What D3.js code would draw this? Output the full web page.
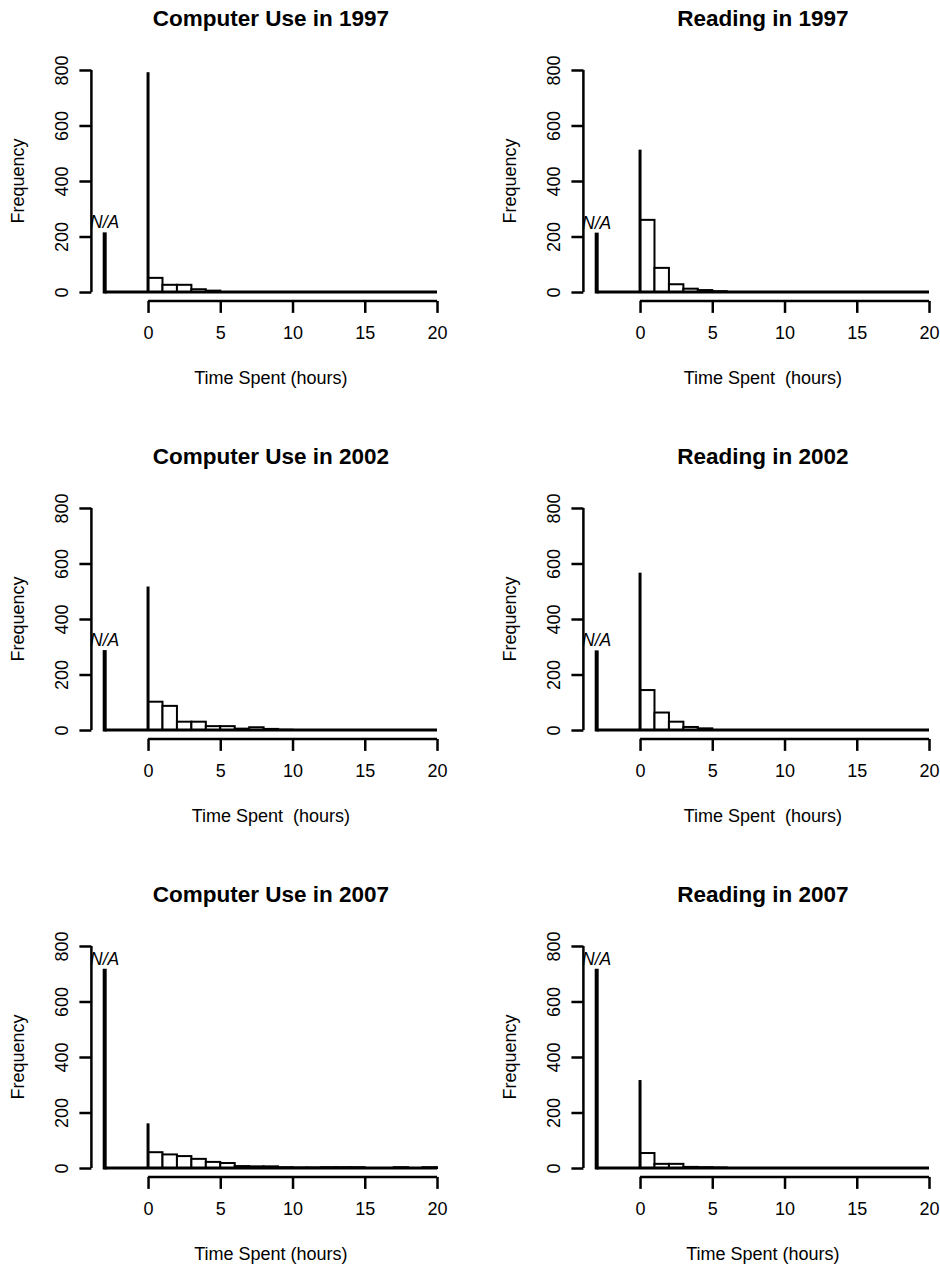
<!DOCTYPE html>
<html>
<head>
<meta charset="utf-8">
<script src="https://cdn.jsdelivr.net/npm/d3@7"></script>
<style>
  body { margin: 0; background: #fff; }
  text { font-family: "Liberation Sans", Arial, sans-serif; fill: #000; white-space: pre; }
</style>
</head>
<body>
<svg id="viz" width="940" height="1266"></svg>
<script>
// Panel data, in reading order (left column = computer use, right = reading)
const titles = [
    "Computer Use in 1997", "Reading in 1997",
    "Computer Use in 2002", "Reading in 2002",
    "Computer Use in 2007", "Reading in 2007"
];
const xTitles = [
    "Time Spent (hours)", "Time Spent  (hours)",
    "Time Spent  (hours)", "Time Spent  (hours)",
    "Time Spent (hours)", "Time Spent (hours)"
];
const naCounts = [215, 214, 288, 287, 718, 718];
const zeroCounts = [792, 513, 517, 567, 161, 317];
// counts for the 1-hour bins 0-1, 1-2, ... 19-20
const binCounts = [
    [51, 26, 26, 10, 5, 0, 0, 0, 0, 0, 0, 0, 0, 0, 0, 0, 0, 0, 0, 0],
    [260, 87, 28, 12, 7, 3, 0, 0, 0, 0, 0, 0, 0, 0, 0, 0, 0, 0, 0, 0],
    [102, 87, 30, 30, 14, 14, 5, 10, 4, 1, 0, 0, 0, 0, 0, 0, 0, 0, 0, 0],
    [144, 63, 30, 11, 6, 0, 0, 0, 0, 0, 0, 0, 0, 0, 0, 0, 0, 0, 0, 0],
    [57, 49, 43, 33, 22, 18, 7, 6, 6, 3, 2, 2, 3, 3, 3, 0, 0, 3, 0, 3],
    [54, 15, 15, 4, 3, 2, 0, 0, 0, 0, 0, 0, 0, 0, 0, 0, 0, 0, 0, 0]
];
const xTicks = [0, 5, 10, 15, 20];
const yTicks = [0, 200, 400, 600, 800];
const naPos = -3;

const CONFIG = {
    colOffset: 492,
    rowOffset: 438,
    xRange: [91.4, 450.3],   // plot region, x domain padded like R (4%)
    yRange: [300.9, 61.1],
    tickLen: 12,
    lw: 2.5,
    font: "18px"
};

const svg = d3.select("#viz");

const x = d3.scaleLinear().domain([-3.92, 20.92]).range(CONFIG.xRange);
const y = d3.scaleLinear().domain([-32, 832]).range(CONFIG.yRange);

titles.forEach((title, i) => {
    const col = i % 2, row = Math.floor(i / 2);
    const g = svg.append("g")
        .attr("transform", `translate(${col * CONFIG.colOffset},${row * CONFIG.rowOffset})`);

    const bins = binCounts[i].map((v, k) => ({ x0: k, x1: k + 1, v }));

    // 1. Histogram bars
    g.append("g").selectAll("rect")
        .data(bins.filter(d => d.v > 0))
        .join("rect")
        .attr("x", d => x(d.x0))
        .attr("y", d => y(d.v))
        .attr("width", d => x(d.x1) - x(d.x0))
        .attr("height", d => y(0) - y(d.v))
        .attr("fill", "#fff")
        .attr("stroke", "#000")
        .attr("stroke-width", 2);

    // baseline from N/A to 20
    g.append("line")
        .attr("x1", x(naPos)).attr("x2", x(20))
        .attr("y1", y(0)).attr("y2", y(0))
        .attr("stroke", "#000").attr("stroke-width", 3);

    // 2. Spikes for exactly zero hours and for N/A
    g.append("line")
        .attr("x1", x(0)).attr("x2", x(0))
        .attr("y1", y(0)).attr("y2", y(zeroCounts[i]))
        .attr("stroke", "#000").attr("stroke-width", 3);

    g.append("line")
        .attr("x1", x(naPos)).attr("x2", x(naPos))
        .attr("y1", y(0) + 1.5).attr("y2", y(naCounts[i]))
        .attr("stroke", "#000").attr("stroke-width", 4);

    g.append("text")
        .attr("x", x(naPos))
        .attr("y", y(naCounts[i]) - 4)
        .attr("text-anchor", "middle")
        .style("font-size", "17.5px")
        .style("font-style", "italic")
        .text("N/A");

    // 3. Axes
    const xAxis = g.append("g")
        .attr("transform", `translate(0,${CONFIG.yRange[0]})`)
        .call(d3.axisBottom(x).tickValues(xTicks).tickSize(CONFIG.tickLen).tickPadding(13).tickSizeOuter(0));
    xAxis.select(".domain").remove();
    xAxis.append("line")
        .attr("x1", x(0)).attr("x2", x(20))
        .attr("stroke", "#000").attr("stroke-width", CONFIG.lw);

    const yAxis = g.append("g")
        .attr("transform", `translate(${CONFIG.xRange[0]},0)`)
        .call(d3.axisLeft(y).tickValues(yTicks).tickSize(CONFIG.tickLen).tickSizeOuter(0));
    yAxis.select(".domain").remove();
    yAxis.append("line")
        .attr("y1", y(0)).attr("y2", y(800))
        .attr("stroke", "#000").attr("stroke-width", CONFIG.lw);
    // R style: labels parallel to the axis
    yAxis.selectAll(".tick text")
        .attr("x", null).attr("dy", null)
        .attr("transform", "translate(-30,0) rotate(-90)")
        .attr("text-anchor", "middle")
        .attr("dy", "0.35em");

    [xAxis, yAxis].forEach(a => {
        a.selectAll(".tick line").attr("stroke", "#000").attr("stroke-width", CONFIG.lw);
        a.selectAll(".tick text").style("font-size", CONFIG.font).attr("fill", "#000");
    });
    xAxis.selectAll(".tick text").attr("dy", "0.71em");

    // 4. Titles
    const cx = (CONFIG.xRange[0] + CONFIG.xRange[1]) / 2;
    g.append("text")
        .attr("x", cx).attr("y", 26)
        .attr("text-anchor", "middle")
        .style("font-size", "22.5px").style("font-weight", "bold")
        .text(title);

    g.append("text")
        .attr("x", cx).attr("y", 384)
        .attr("text-anchor", "middle")
        .style("font-size", CONFIG.font)
        .text(xTitles[i]);

    g.append("text")
        .attr("transform", `translate(18,${(CONFIG.yRange[0] + CONFIG.yRange[1]) / 2}) rotate(-90)`)
        .attr("text-anchor", "middle")
        .attr("dy", "0.35em")
        .style("font-size", CONFIG.font)
        .text("Frequency");
});
</script>
</body>
</html>
